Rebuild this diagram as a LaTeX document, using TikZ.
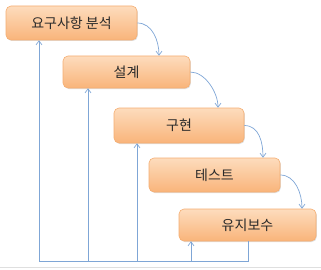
\documentclass[tikz,border=0pt]{standalone}
\usepackage{fontspec}
\setmainfont{Noto Sans CJK KR}
\usetikzlibrary{arrows.meta,shadows}
\definecolor{boxtop}{HTML}{FDDCBD}
\definecolor{boxbot}{HTML}{F9B47A}
\definecolor{boxline}{HTML}{F5AE72}
\definecolor{arr}{HTML}{7FA6D6}
\definecolor{txt}{HTML}{2A2A2A}
\tikzset{
  phase/.style={draw=boxline, line width=0.6pt, rounded corners=5pt,
    top color=boxtop, bottom color=boxbot, text=txt,
    font=\fontsize{14}{16}\selectfont,
    drop shadow={shadow xshift=0.8pt, shadow yshift=-1pt, opacity=0.25}},
  flow/.style={draw=arr, line width=0.7pt, -{Straight Barb[length=4pt,width=6pt]}},
  back/.style={draw=arr, line width=0.7pt},
}
\begin{document}
\begin{tikzpicture}[x=1pt,y=-1pt]
\useasboundingbox (0,0) rectangle (321,270);
\draw[gray!25, line width=0.8pt] (0,267) -- (321,267);
\node[phase, minimum width=131pt, minimum height=34pt] (a) at (71.5,23) {요구사항 분석};
\node[phase, minimum width=127pt, minimum height=32pt] (b) at (126.5,72) {설계};
\node[phase, minimum width=130pt, minimum height=35pt] (c) at (179,125.5) {구현};
\node[phase, minimum width=131pt, minimum height=34pt] (d) at (214.5,175) {테스트};
\node[phase, minimum width=137pt, minimum height=32pt] (e) at (247.5,225) {유지보수};
% curved forward arrows
\draw[flow] (a.east) .. controls +(15,0) and +(0,-15) .. (b.north -| 159,0);
\draw[flow] (b.east) .. controls +(15,0) and +(0,-15) .. (c.north -| 218,0);
\draw[flow] (c.east) .. controls +(15,0) and +(0,-15) .. (d.north -| 263,0);
\draw[flow] (d.east) .. controls +(15,0) and +(0,-15) .. (e.north -| 302,0);
% feedback lines
\coordinate (p1) at (248,261);
\coordinate (p2) at (39,261);
\draw[back] (e.south -| p1) -- (p1) -- (p2);
\draw[flow] (p2) -- (a.south -| p2);
\draw[flow] (88,261) -- (b.south -| 88,0);
\draw[flow] (137,261) -- (c.south -| 137,0);
\draw[flow] (191,261) -- (e.south -| 191,0);
\end{tikzpicture}
\end{document}
